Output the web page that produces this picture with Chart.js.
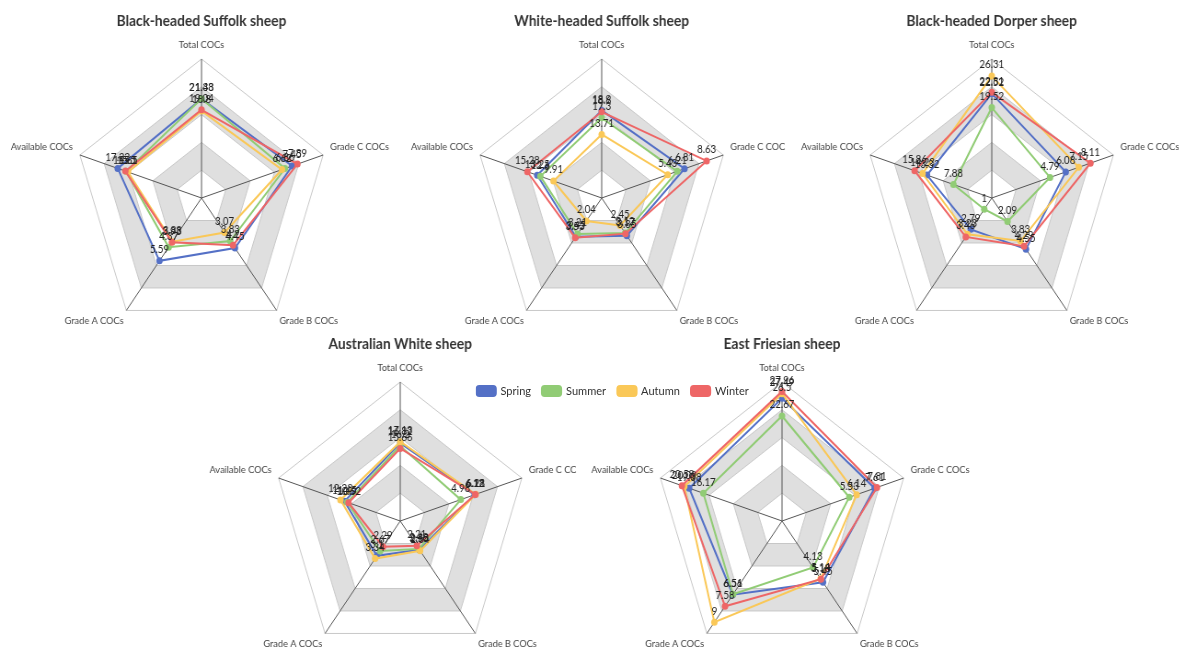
<!DOCTYPE html>
<html>
<head>
<meta charset="utf-8">
<script src="https://cdn.jsdelivr.net/npm/chart.js@4.4.1/dist/chart.umd.min.js"></script>
<style>
  html, body { margin: 0; padding: 0; background: #fff; overflow: hidden; width: 1179px; height: 648px; }
  #stage { position: absolute; left: 0; top: 0; width: 1281.5px; height: 648px;
           transform: scaleX(0.92); transform-origin: 0 0; font-family: Lato, "Open Sans", sans-serif; }
  .panel { position: absolute; }
  #legend { position: absolute; top: 383px; left: 517px; display: flex; align-items: center; }
  .item { display: flex; align-items: center; margin-right: 11px; font-size: 12px; color: #333; }
  .swatch { width: 23px; height: 12px; border-radius: 4px; margin-right: 4px; }
</style>
</head>
<body>
<div id="stage">
  <canvas id="c1" class="panel" width="470" height="347" style="left:-16px;top:0px"></canvas>
  <canvas id="c2" class="panel" width="470" height="347" style="left:419px;top:0px"></canvas>
  <canvas id="c3" class="panel" width="470" height="347" style="left:843px;top:0px"></canvas>
  <canvas id="c4" class="panel" width="470" height="346" style="left:200px;top:324px"></canvas>
  <canvas id="c5" class="panel" width="470" height="346" style="left:615px;top:324px"></canvas>
  <div id="legend"></div>
</div>
<script>
// Radar axes (clockwise from the top) and the full-scale value of each axis
const axisNames = ['Total COCs', 'Grade C COCs', 'Grade B COCs', 'Grade A COCs', 'Available COCs'];
const axisMax = [30, 10, 10, 10, 25];

const seasons = ['Spring', 'Summer', 'Autumn', 'Winter'];
const seasonColors = ['#5470c6', '#91cc75', '#fac858', '#ee6666'];

// COC counts per breed: rows = seasons, columns = axes above
const blackSuffolk = [
  [21.38, 7.45, 4.45, 5.59, 17.22],
  [21.43, 6.86, 3.83, 4.37, 15.5],
  [18.8, 6.62, 3.07, 3.88, 15.1],
  [19.04, 7.89, 4.2, 3.93, 15.65]
];
const whiteSuffolk = [
  [18.9, 6.81, 3.35, 3.45, 13.25],
  [17.3, 6.21, 3.12, 3.21, 12.6],
  [13.71, 5.43, 2.45, 2.04, 9.91],
  [18.6, 8.63, 3.17, 3.53, 15.28]
];
const blackDorper = [
  [22.52, 6.08, 4.55, 2.79, 13.32],
  [19.52, 4.79, 2.09, 1, 7.88],
  [26.31, 7.15, 3.83, 3.23, 14.23],
  [22.81, 8.11, 4.29, 3.46, 15.86]
];
const australianWhite = [
  [16.82, 6.12, 2.55, 3.1, 11.45],
  [16.2, 4.98, 2.48, 2.67, 10.9],
  [17.13, 6.21, 2.64, 3.34, 12.28],
  [15.66, 6.18, 2.21, 2.29, 10.62]
];
const eastFriesian = [
  [26.5, 7.61, 5.45, 6.56, 19.08],
  [22.67, 5.53, 4.13, 6.51, 16.17],
  [27.49, 6.14, 5.14, 9, 20.09],
  [27.96, 7.81, 5.18, 7.58, 20.58]
];

Chart.defaults.font.family = 'Lato, "Open Sans", sans-serif';
Chart.defaults.color = '#444';

// alternating grey rings behind the grid
const ringBands = {
  id: 'ringBands',
  beforeDraw(chart, args, opts) {
    const scale = chart.scales.r;
    const n = chart.data.labels.length;
    const ctx = chart.ctx;
    ctx.save();
    ctx.fillStyle = opts.color;
    opts.ranges.forEach(([inner, outer]) => {
      ctx.beginPath();
      for (let i = 0; i < n; i++) {
        const p = scale.getPointPositionForValue(i, outer);
        if (i === 0) ctx.moveTo(p.x, p.y); else ctx.lineTo(p.x, p.y);
      }
      ctx.closePath();
      for (let i = n - 1; i >= 0; i--) {
        const p = scale.getPointPositionForValue(i, inner);
        if (i === n - 1) ctx.moveTo(p.x, p.y); else ctx.lineTo(p.x, p.y);
      }
      ctx.closePath();
      ctx.fill('evenodd');
    });
    ctx.restore();
  }
};

// the raw value written above every point
const valueLabels = {
  id: 'valueLabels',
  afterDatasetsDraw(chart) {
    const ctx = chart.ctx;
    ctx.save();
    ctx.font = '10.5px Lato, "Open Sans", sans-serif';
    ctx.fillStyle = '#222';
    ctx.textAlign = 'center';
    ctx.textBaseline = 'middle';
    chart.data.datasets.forEach((ds, i) => {
      const meta = chart.getDatasetMeta(i);
      meta.data.forEach((pt, j) => {
        ctx.fillText(String(ds.values[j]), pt.x, pt.y - 11);
      });
    });
    ctx.restore();
  }
};

// gap between each axis tip and its name (the two lower names sit closer)
const nameGap = [8, 8, 5, 5, 8];

function radar(id, title, rows, labels, titlePadTop) {
  const datasets = rows.map((vals, s) => ({
    label: seasons[s],
    values: vals,
    data: vals.map((v, k) => v / axisMax[k]),
    borderColor: seasonColors[s],
    backgroundColor: seasonColors[s],
    pointBackgroundColor: seasonColors[s],
    pointBorderColor: seasonColors[s],
    pointRadius: 3.5,
    pointBorderWidth: 0,
    borderWidth: 2,
    fill: false,
    tension: 0,
    order: rows.length - s
  }));
  new Chart(document.getElementById(id), {
    type: 'radar',
    data: { labels: labels, datasets: datasets },
    options: {
      responsive: false,
      animation: false,
      layout: { padding: 0 },
      plugins: {
        legend: { display: false },
        tooltip: { enabled: false },
        title: {
          display: true, text: title, color: '#333',
          font: { size: 15, weight: 'bold', lineHeight: 1 },
          padding: { top: titlePadTop, bottom: 0 }
        },
        ringBands: { color: '#dfdfdf', ranges: [[0.2, 0.4], [0.6, 0.8]] }
      },
      scales: {
        r: {
          min: 0, max: 1,
          ticks: { display: false, stepSize: 0.2 },
          grid: { color: '#c8c8c8', lineWidth: 1 },
          angleLines: { color: '#555', lineWidth: 1 },
          pointLabels: {
            font: { size: 10 }, color: '#444',
            padding: (ctx) => nameGap[ctx.index]
          }
        }
      }
    },
    plugins: [ringBands, valueLabels]
  });
}

const labelsC2 = ['Total COCs', 'Grade C COC', 'Grade B COCs', 'Grade A COCs', 'Available COCs'];
const labelsC4 = ['Total COCs', 'Grade C CC', 'Grade B COCs', 'Grade A COCs', 'Available COCs'];

radar('c1', 'Black-headed Suffolk sheep', blackSuffolk, axisNames, 14);
radar('c2', 'White-headed Suffolk sheep', whiteSuffolk, labelsC2, 14);
radar('c3', 'Black-headed Dorper sheep', blackDorper, axisNames, 14);
radar('c4', 'Australian White sheep', australianWhite, labelsC4, 13);
radar('c5', 'East Friesian sheep', eastFriesian, axisNames, 13);

// shared season legend
const legend = document.getElementById('legend');
seasons.forEach((name, s) => {
  const item = document.createElement('div');
  item.className = 'item';
  const sw = document.createElement('span');
  sw.className = 'swatch';
  sw.style.background = seasonColors[s];
  const txt = document.createElement('span');
  txt.textContent = name;
  item.appendChild(sw);
  item.appendChild(txt);
  legend.appendChild(item);
});
</script>
</body>
</html>
